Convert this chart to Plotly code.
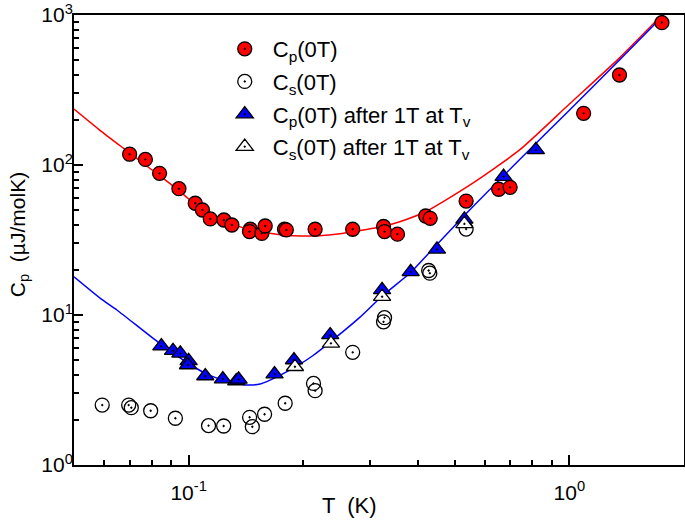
import plotly.graph_objects as go
import numpy as np

# ---- data ----
cp_T = [0.0700, 0.0770, 0.0839, 0.0943, 0.1041, 0.1087, 0.1140, 0.1238, 0.1299, 0.1452, 0.1445,
        0.1557, 0.1589, 0.1786, 0.1805, 0.2149, 0.2697, 0.3250, 0.3270, 0.3536, 0.4194, 0.4310,
        0.5356, 0.6522, 0.6988, 1.09, 1.354, 1.75]
cp_C = [118, 109, 88, 69.5, 55.6, 50.1, 43.7, 43.0, 39.8, 37.3, 36.0,
        35.0, 39.2, 37.3, 36.9, 37.3, 37.3, 38.9, 36.0, 34.6, 45.7, 44.1,
        57.5, 68.9, 71.0, 221, 398, 889]

cs_T = [0.0593, 0.0696, 0.0707, 0.0795, 0.0923, 0.1128, 0.1236, 0.1446, 0.1470, 0.1583, 0.1793,
        0.2128, 0.2149, 0.2697, 0.3250, 0.3270, 0.4270, 0.4300, 0.5356]
cs_C = [2.51, 2.51, 2.41, 2.30, 2.05, 1.83, 1.82, 2.08, 1.80, 2.18, 2.58,
        3.50, 3.13, 5.64, 9.0, 9.6, 19.8, 19.0, 37.4]

cpv_T = [0.0848, 0.0910, 0.0951, 0.1000, 0.0996, 0.1106, 0.1230, 0.1334, 0.1353, 0.1681, 0.1891,
         0.2354, 0.3222, 0.3830, 0.4490, 0.5300, 0.6717, 0.8165]
cpv_C = [6.20, 5.78, 5.55, 4.94, 4.64, 3.92, 3.74, 3.63, 3.72, 4.04, 5.01,
         7.36, 14.7, 19.4, 27.4, 43.4, 83.6, 126]

csv_T = [0.1902, 0.2365, 0.3222, 0.5300]
csv_C = [4.52, 6.47, 13.25, 40.5]

# fit curves
fit_red_T = [0.05, 0.0584, 0.0675, 0.08, 0.095, 0.1095, 0.125, 0.145, 0.165, 0.19, 0.22, 0.25,
             0.28, 0.325, 0.36, 0.42, 0.55, 0.74, 1.0, 1.35, 1.75]
fit_red_C = [236, 171, 129, 93, 66.5, 49, 41.9, 37, 35, 33.7, 33.8, 34.8,
             36.4, 39.0, 42, 49, 74, 126, 255, 514, 1000]

fit_blue_T = [0.05, 0.0594, 0.0648, 0.0839, 0.1, 0.1113, 0.125, 0.1418, 0.155, 0.170, 0.196,
              0.2118, 0.2354, 0.281, 0.3236, 0.383, 0.4286, 0.547, 0.7383, 1.0, 1.354, 1.77]
fit_blue_C = [18.0, 12.6, 10.8, 6.47, 4.75, 4.05, 3.65, 3.42, 3.48, 3.85, 4.7,
              5.35, 6.6, 9.6, 13.5, 19.2, 26.0, 50.1, 108, 232, 501, 1000]

x_ticks = [0.1, 1]
x_ticktext = ["10<sup>-1</sup>", "10<sup>0</sup>"]
y_ticks = [1, 10, 100, 1000]
y_ticktext = ["10<sup>0</sup>", "10<sup>1</sup>", "10<sup>2</sup>", "10<sup>3</sup>"]

FONT = "Liberation Sans, Arial, sans-serif"

fig = go.Figure()
fig.add_trace(go.Scatter(x=fit_red_T, y=fit_red_C, mode="lines",
                         line=dict(color="#FF0000", width=1.5, shape="spline", smoothing=0.6),
                         showlegend=False, hoverinfo="skip"))
fig.add_trace(go.Scatter(x=fit_blue_T, y=fit_blue_C, mode="lines",
                         line=dict(color="#0000FF", width=1.5, shape="spline", smoothing=0.6),
                         showlegend=False, hoverinfo="skip"))

fig.add_trace(go.Scatter(x=cp_T, y=cp_C, mode="markers", name="C<sub>p</sub>(0T)", legendgroup="a",
                         marker=dict(symbol="circle-dot", size=14, color="#FF0000", line=dict(color="black", width=1.3))))
fig.add_trace(go.Scatter(x=cs_T, y=cs_C, mode="markers", name="C<sub>s</sub>(0T)", legendgroup="b",
                         marker=dict(symbol="circle-open-dot", size=14, color="black", line=dict(color="black", width=1.3))))
fig.add_trace(go.Scatter(x=cpv_T, y=cpv_C, mode="markers", name="C<sub>p</sub>(0T) after 1T at T<sub>v</sub>", legendgroup="c",
                         marker=dict(symbol="triangle-up-dot", size=15, color="#0000FF", line=dict(color="black", width=1.3))))
fig.add_trace(go.Scatter(x=csv_T, y=csv_C, mode="markers", name="C<sub>s</sub>(0T) after 1T at T<sub>v</sub>", legendgroup="d",
                         marker=dict(symbol="triangle-up-dot", size=15, color="white", line=dict(color="black", width=1.3))))

axis_common = dict(type="log", showline=True, linecolor="black", linewidth=2, mirror=True, automargin=False,
                   ticks="inside", tickcolor="black", tickwidth=1.5, showgrid=False, zeroline=False,
                   tickfont=dict(family=FONT, size=21, color="black"))

fig.update_xaxes(range=[np.log10(0.05), np.log10(2)], tickvals=x_ticks, ticktext=x_ticktext, ticklen=10,
                 ticklabelstandoff=8,
                 minor=dict(ticks="inside", ticklen=5, tickcolor="black", tickwidth=1.5,
                            tickvals=[0.06, 0.07, 0.08, 0.09, 0.2, 0.3, 0.4, 0.5, 0.6, 0.7, 0.8, 0.9], showgrid=False),
                 **axis_common)
fig.update_yaxes(range=[0, 3], tickvals=y_ticks, ticktext=y_ticktext, ticklen=9,
                 ticklabelstandoff=-5,
                 minor=dict(ticks="inside", ticklen=5, tickcolor="black", tickwidth=1.5,
                            tickvals=[m * d for d in (1, 10, 100) for m in range(2, 10)], showgrid=False),
                 **axis_common)

fig.update_layout(
    width=685, height=522,
    margin=dict(l=74, r=1, t=15, b=57),
    plot_bgcolor="white", paper_bgcolor="white",
    font=dict(family=FONT, size=21, color="black"),
    legend=dict(x=0.234, y=0.971, xanchor="left", yanchor="top", bgcolor="rgba(0,0,0,0)",
                font=dict(family=FONT, size=22, color="black"), itemsizing="trace",
                itemwidth=46, tracegroupgap=1),
    annotations=[
        dict(text="T  (K)", x=0.451, y=-0.089, xref="paper", yref="paper", showarrow=False,
             xanchor="center", yanchor="middle", font=dict(family=FONT, size=22, color="black")),
        dict(text="C<sub>p</sub>  (\u00b5J/molK)", x=-0.09, y=0.511, xref="paper", yref="paper", showarrow=False,
             textangle=-90, xanchor="center", yanchor="middle", font=dict(family=FONT, size=21, color="black")),
    ],
)

fig.write_html("out.html", config={"displayModeBar": False},
               post_script="document.body.style.margin='0px';")
